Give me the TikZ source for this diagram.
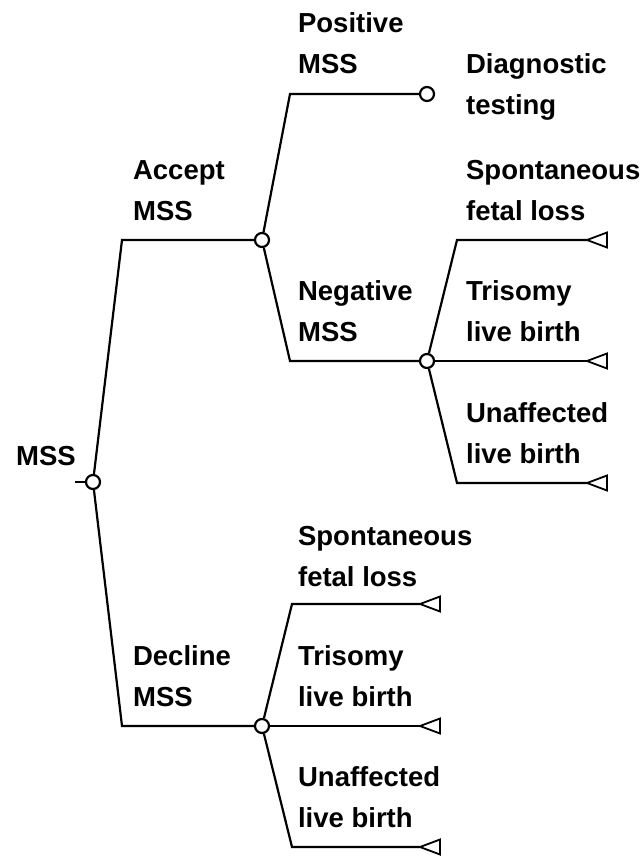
\documentclass[tikz,border=0pt]{standalone}
\usepackage{fontspec}
\setmainfont{Liberation Sans}
\usetikzlibrary{positioning}

\begin{document}
\begin{tikzpicture}[x=1pt, y=-1pt, line width=2.2pt,
    chance/.style={draw, circle, fill=white, inner sep=0pt, minimum size=14pt},
    lbl/.style={anchor=base west, inner sep=0pt, align=left,
        font=\fontsize{27.5}{41}\selectfont\bfseries},
    endtri/.pic={\draw[line width=1.8pt] (0,0) -- (20,-7.5) -- (20,7.5) -- cycle;}]
    \useasboundingbox (0,0) rectangle (640,856);

    % chance nodes
    \node[chance] (root) at (93,482) {};
    \node[chance] (acc) at (262,240) {};
    \node[chance] (dec) at (262,726) {};
    \node[chance] (pos) at (427,94) {};
    \node[chance] (neg) at (427,361) {};

    % elbows of the branches
    \coordinate (stub) at (75,482);
    \coordinate (accK) at (122,240);
    \coordinate (decK) at (122,726);
    \coordinate (posK) at (290,94);
    \coordinate (negK) at (290,361);
    \coordinate (nlossK) at (457,240);
    \coordinate (nokK) at (457,483);
    \coordinate (dlossK) at (292,604);
    \coordinate (dokK) at (292,847);

    % end points
    \coordinate (nloss) at (587,240);
    \coordinate (ntri) at (587,361);
    \coordinate (nok) at (587,483);
    \coordinate (dloss) at (420,604);
    \coordinate (dtri) at (420,726);
    \coordinate (dok) at (420,847);
    \foreach \t in {nloss,ntri,nok,dloss,dtri,dok}
        \pic at (\t) {endtri};

    % branches
    \draw (stub) -- (root);
    \draw (root) -- (accK) -- (acc);
    \draw (root) -- (decK) -- (dec);
    \draw (acc) -- (posK) -- (pos);
    \draw (acc) -- (negK) -- (neg);
    \draw (neg) -- (nlossK) -- (nloss);
    \draw (neg) -- (ntri);
    \draw (neg) -- (nokK) -- (nok);
    \draw (dec) -- (dlossK) -- (dloss);
    \draw (dec) -- (dtri);
    \draw (dec) -- (dokK) -- (dok);

    % labels (base = last line)
    \node[lbl] (mss) at (15,465) {MSS};
    \node[lbl] (accL) at (132,220) {Accept\\MSS};
    \node[lbl] (decL) at (132,706) {Decline\\MSS};
    \node[lbl] (posL) at (297,74) {Positive\\MSS};
    \node[lbl] (negL) at (297,341) {Negative\\MSS};
    \node[lbl] (diagL) at (465,115) {Diagnostic\\testing};
    \node[lbl] (nlossL) at (465,220) {Spontaneous\\fetal loss};
    \node[lbl] (ntriL) at (465,341) {Trisomy\\live birth};
    \node[lbl] (nokL) at (465,463) {Unaffected\\live birth};
    \node[lbl] (dlossL) at (297,586) {Spontaneous\\fetal loss};
    \node[lbl] (dtriL) at (297,706) {Trisomy\\live birth};
    \node[lbl] (dokL) at (297,827) {Unaffected\\live birth};
\end{tikzpicture}
\end{document}
